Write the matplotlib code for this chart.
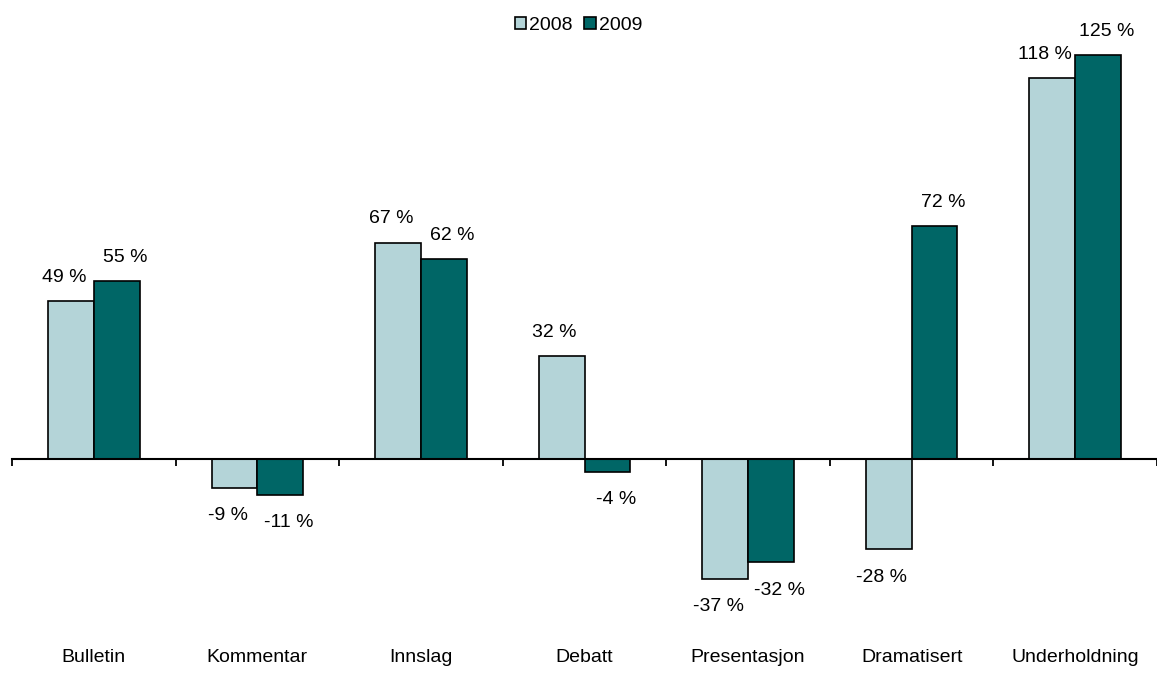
import numpy as np
import matplotlib.pyplot as plt

# data
categories = ["Bulletin", "Kommentar", "Innslag", "Debatt",
              "Presentasjon", "Dramatisert", "Underholdning"]
v2008 = [49, -9, 67, 32, -37, -28, 118]
v2009 = [55, -11, 62, -4, -32, 72, 125]
series_names = ["2008", "2009"]

plt.rcParams["font.family"] = ["Liberation Sans", "DejaVu Sans"]

W, H = 1157, 695
fig = plt.figure(figsize=(W / 100, H / 100), dpi=100)

# axes placement in pixels
left_px, right_px = 12, 1157
zero_px = 459
px_per_unit = 3.23
top_px, bottom_px = 0, 640
ax = fig.add_axes([left_px / W, 1 - bottom_px / H,
                   (right_px - left_px) / W, (bottom_px - top_px) / H])

x = np.arange(len(categories))
w = 0.28
colors = ["#B4D4D8", "#006666"]

b1 = ax.bar(x - w / 2, v2008, w, color=colors[0], edgecolor="black",
            linewidth=1.2, label=series_names[0], zorder=2)
b2 = ax.bar(x + w / 2, v2009, w, color=colors[1], edgecolor="black",
            linewidth=1.2, label=series_names[1], zorder=2)

# value labels
for bars, vals, dx in [(b1, v2008, -5), (b2, v2009, 6)]:
    for bar, v in zip(bars, vals):
        cx = bar.get_x() + bar.get_width() / 2
        dy = 17 if v >= 0 else -20
        ax.annotate(f"{v} %", (cx, v), xytext=(dx, dy),
                    textcoords="offset points", ha="center", va="center",
                    fontsize=14)

# limits
span = (right_px - left_px) / 165.0
ax.set_xlim(-0.5, -0.5 + span)
ax.set_ylim(-(bottom_px - zero_px) / px_per_unit, (zero_px - top_px) / px_per_unit)

# axis at zero
for s in ["top", "right", "left"]:
    ax.spines[s].set_visible(False)
ax.spines["bottom"].set_position(("data", 0))
ax.spines["bottom"].set_linewidth(1.5)
ax.spines["bottom"].set_zorder(3)
ax.set_yticks([])
ax.set_xticks(x)
ax.set_xticklabels(categories, fontsize=14)
ax.tick_params(axis="x", which="major", length=0, pad=137)
ax.set_xticks(np.arange(-0.5, len(categories) - 0.4, 1), minor=True)
ax.tick_params(axis="x", which="minor", length=5, width=1.3, direction="out")

fig.legend(handles=[b1, b2], labels=series_names, loc="upper center",
           bbox_to_anchor=(0.5, 0.995), ncol=2, frameon=False, fontsize=14,
           handlelength=0.6, handleheight=0.6, handletextpad=0.15,
           columnspacing=0.6, borderaxespad=0.3)

fig.savefig("out.png", dpi=100)
